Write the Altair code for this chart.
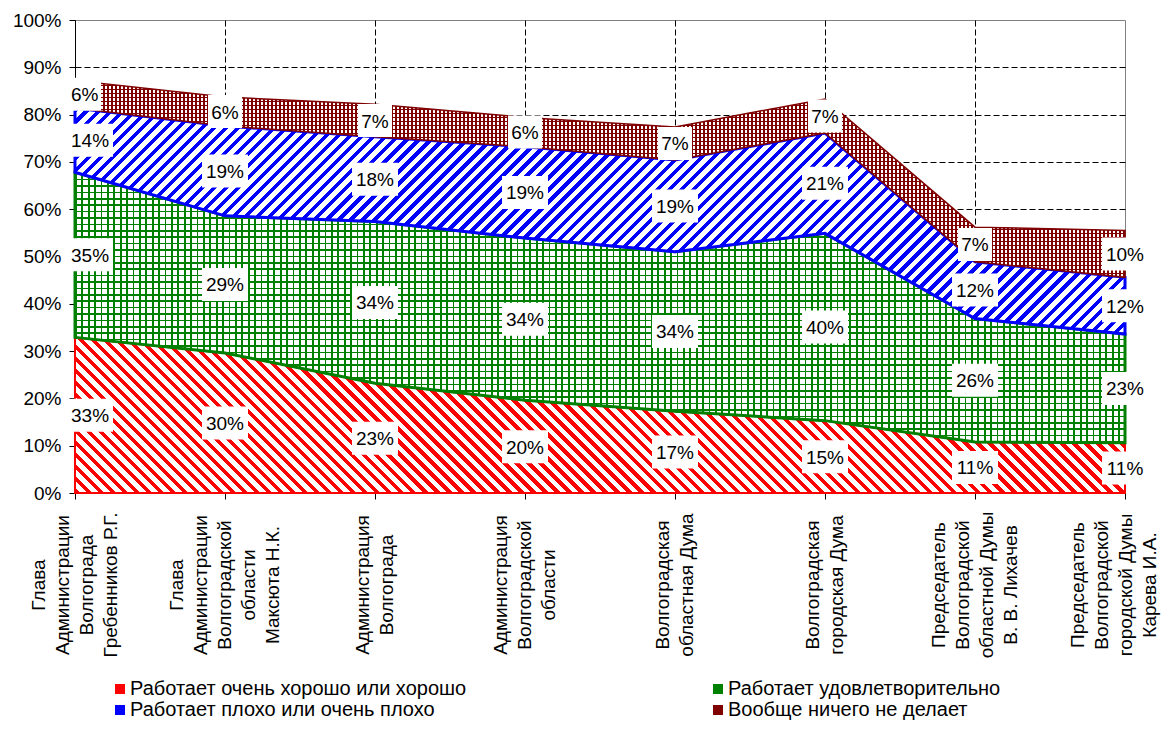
import math
import altair as alt
import pandas as pd

# ---------------- data ----------------
categories = [
    "Глава\nАдминистрации\nВолгограда\nГребенников Р.Г.",
    "Глава\nАдминистрации\nВолгоградской\nобласти\nМаксюта Н.К.",
    "Администрация\nВолгограда",
    "Администрация\nВолгоградской\nобласти",
    "Волгоградская\nобластная Дума",
    "Волгоградская\nгородская Дума",
    "Председатель\nВолгоградской\nобластной Думы\nВ. В. Лихачев",
    "Председатель\nВолгоградской\nгородской Думы\nКарева И.А.",
]
series = [
    "Работает очень хорошо или хорошо",
    "Работает удовлетворительно",
    "Работает плохо или очень плохо",
    "Вообще ничего не делает",
]
good = [32.9, 29.6, 23.2, 19.6, 17.3, 15.3, 10.8, 10.6]
fair = [34.9, 29.0, 34.2, 34.3, 33.7, 39.6, 26.1, 23.0]
bad = [13.6, 19.0, 17.9, 19.3, 19.4, 21.2, 12.0, 12.0]
nothing = [5.8, 6.1, 6.9, 6.2, 7.0, 7.2, 7.3, 9.9]
colors = ["#FF0000", "#008000", "#0000FF", "#800000"]

# ---------------- layout ----------------
W, H = 1050, 473
K = H / 100.0
FONT = "Liberation Sans"
FS = 19
LH = 24

# ---------------- table ----------------
rows = []
bounds = {}
lower = [0.0] * len(categories)
for s, vals in zip(series, [good, fair, bad, nothing]):
    upper = [l + v for l, v in zip(lower, vals)]
    bounds[s] = (min(lower), max(upper))
    for i, c in enumerate(categories):
        lab = f"{vals[i]:.0f}%"
        w = 46 if len(lab) >= 3 else 34
        h = 33
        if i == 0:
            x0, x1 = -8, -8 + w
        else:
            x0, x1 = -w / 2, w / 2
        u = 10.0
        path = (f"M{x0/u:.2f},{-h/2/u:.2f}L{x1/u:.2f},{-h/2/u:.2f}"
                f"L{x1/u:.2f},{h/2/u:.2f}L{x0/u:.2f},{h/2/u:.2f}Z")
        rows.append(dict(series=s, cat=c, idx=i, nl=c.count("\n") + 1,
                         lo=lower[i], hi=upper[i], mid=(lower[i] + upper[i]) / 2,
                         label=lab, box=path))
    lower = upper
df = pd.DataFrame(rows)


def stripes(s, normal, period, frac, c_on, c_off):
    lo, hi = bounds[s]
    bw, bh = float(W), (hi - lo) * K
    nx, ny = normal
    nn = math.hypot(nx, ny)
    nx, ny = nx / nn, ny / nn
    proj = [nx * X + ny * Y for X, Y in [(0, 0), (bw, 0), (0, bh), (bw, bh)]]
    c0 = min(proj)
    L = max(proj) - c0
    a, b, c = nx / L, ny / L, -c0 / L
    den = a * a * bw * bw + b * b * bh * bh
    dx, dy = a * bw / den, b * bh / den
    x1, y1 = -c * dx, -c * dy
    stops = []
    n = int(math.ceil(L / period))
    for k in range(n):
        st = min(k * period / L, 1.0)
        mi = min((k * period + frac * period) / L, 1.0)
        en = min((k + 1) * period / L, 1.0)
        stops += [dict(offset=round(st, 5), color=c_on), dict(offset=round(mi, 5), color=c_on),
                  dict(offset=round(mi, 5), color=c_off), dict(offset=round(en, 5), color=c_off)]
    return dict(gradient="linear", x1=x1, y1=y1, x2=x1 + dx, y2=y1 + dy, stops=stops)


TR = "rgba(255,255,255,0)"

cond = {"condition": {"test": "datum.index == 1", "value": 0}, "value": 1}
xaxis = alt.Axis(
    title=None, labels=False, tickSize=6, tickColor="black", domainColor="black",
    grid=True, gridDash=[6, 3], gridColor="black", gridOpacity=cond,
)
yaxis = alt.Axis(
    title=None, values=list(range(0, 101, 10)), labelExpr="datum.value + '%'",
    labelFontSize=FS, labelPadding=8, tickSize=6, tickColor="black",
    domainColor="black", labelColor="black",
    grid=True, gridDash=[6, 3], gridColor="black", gridOpacity=cond,
)
X = alt.X("cat:N", sort=categories, scale=alt.Scale(padding=0), axis=xaxis)
YS = alt.Scale(domain=[0, 100])
Y = alt.Y("mid:Q", scale=YS, axis=yaxis)

base = alt.Chart(df)


def area(s, fill, stroke=None, sw=0):
    kw = dict(fill=fill, opacity=1)
    if stroke:
        kw.update(stroke=stroke, strokeWidth=sw)
    else:
        kw.update(strokeWidth=0)
    return base.transform_filter(alt.datum.series == s).mark_area(**kw).encode(
        x=X, y=alt.Y("lo:Q", scale=YS, axis=yaxis), y2="hi:Q")


layers = [
    area(series[0], stripes(series[0], (1, -1), 8.5, 0.45, colors[0], "#FFFFFF"), colors[0], 2),
    area(series[1], stripes(series[1], (1, 0), 6.4, 0.28, colors[1], "#FFFFFF")),
    area(series[1], stripes(series[1], (0, 1), 6.4, 0.28, colors[1], TR), colors[1], 3),
    area(series[2], stripes(series[2], (1, 1), 8.5, 0.45, colors[2], "#FFFFFF"), colors[2], 3),
    area(series[3], stripes(series[3], (1, 0), 4.0, 0.42, colors[3], "#FFFFFF")),
    area(series[3], stripes(series[3], (0, 1), 4.0, 0.42, colors[3], TR), colors[3], 1.5),
]

legend_layer = base.mark_square(size=0, opacity=1).encode(
    x=X, y=Y,
    color=alt.Color("series:N", scale=alt.Scale(domain=series, range=colors),
                    legend=alt.Legend(title=None, orient="none", legendX=35, legendY=659,
                                      direction="horizontal", columns=2,
                                      symbolType="square", symbolSize=100,
                                      symbolStrokeWidth=0, symbolOpacity=1,
                                      labelFontSize=20, labelFont=FONT, labelColor="black",
                                      labelLimit=600, labelOffset=0, columnPadding=241,
                                      rowPadding=1, padding=0)),
)

boxes = base.mark_point(filled=True, fill="white", opacity=1, strokeWidth=0, size=400).encode(
    x=X, y=Y, shape=alt.Shape("box:N", scale=None),
)

txt_first = base.transform_filter(alt.datum.idx == 0).mark_text(
    align="left", baseline="middle", dx=-4, dy=1, fontSize=FS, font=FONT, color="black").encode(
    x=X, y=Y, text="label:N")
txt_rest = base.transform_filter(alt.datum.idx > 0).mark_text(
    align="center", baseline="middle", dy=1, fontSize=FS, font=FONT, color="black").encode(
    x=X, y=Y, text="label:N")

last = len(categories) - 1
cat_layers = []
for n in sorted(set(df["nl"])):
    cat_layers.append(
        base.transform_filter((alt.datum.series == series[0]) & (alt.datum.nl == n)
                              & (alt.datum.idx < last)).mark_text(
            angle=270, align="center", baseline="middle", lineBreak="\n", lineHeight=LH,
            fontSize=FS, font=FONT, color="black", dy=-(n - 1) * LH / 2,
        ).encode(x=X, y=alt.value(H + 92), text="cat:N")
    )
n_last = categories[last].count("\n") + 1
cat_layers.append(
    base.transform_filter((alt.datum.series == series[0]) & (alt.datum.idx == last)).mark_text(
        angle=270, align="center", baseline="middle", lineBreak="\n", lineHeight=LH,
        fontSize=FS, font=FONT, color="black", dy=-(n_last - 1) * LH / 2 - 11,
    ).encode(x=X, y=alt.value(H + 92), text="cat:N")
)

chart = alt.layer(*layers, legend_layer, boxes, txt_first, txt_rest, *cat_layers).properties(
    width=W, height=H,
    padding={"left": 67, "top": 12, "right": 36, "bottom": 227},
    autosize=alt.AutoSizeParams(type="none"),
).configure(font=FONT, background="white").configure_view(
    stroke="#808080", strokeWidth=1, fill="white"
).configure_axis(labelFont=FONT)

chart.save("out.html", embed_options={"renderer": "svg", "actions": False})
